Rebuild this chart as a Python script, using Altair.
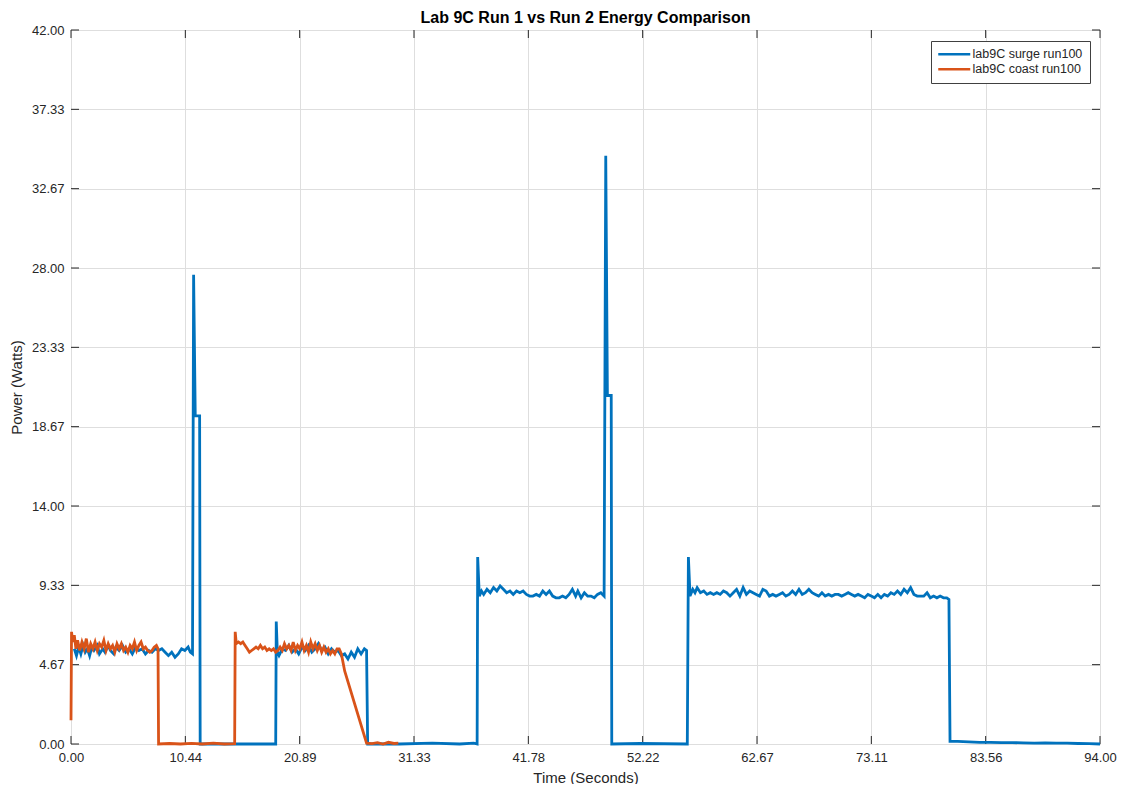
import altair as alt
import pandas as pd

# ---- data ----
surge_t = [0.3, 0.5, 0.7, 0.9, 1.1, 1.3, 1.5, 1.7, 1.9, 2.1, 2.4, 2.6, 2.9, 3.1, 3.4, 3.6, 3.9, 4.1, 4.4, 4.7,
           5.0, 5.3, 5.6, 5.9, 6.2, 6.5, 6.8, 7.1, 7.4, 7.7, 8.0, 8.3, 8.6, 8.9, 9.2, 9.5, 9.8, 10.1, 10.4, 10.7,
           10.9, 11.1, 11.2, 11.35, 11.75, 11.8, 14.0, 16.5, 18.7,
           18.75, 18.85, 19.0, 19.3, 19.6, 19.9, 20.2, 20.5, 20.8, 21.1, 21.4, 21.7, 22.0, 22.3, 22.6, 22.9, 23.2,
           23.5, 23.8, 24.1, 24.4, 24.7, 25.0, 25.3, 25.6, 25.9, 26.2, 26.5, 26.8, 27.0, 27.1,
           30.0, 33.0, 35.5, 36.8, 37.1,
           37.15, 37.3, 37.5, 37.7, 38.0, 38.3, 38.6, 38.9, 39.2, 39.5, 39.8, 40.1, 40.4, 40.7, 41.0, 41.3, 41.6,
           41.9, 42.2, 42.5, 42.8, 43.1, 43.4, 43.7, 44.0, 44.3, 44.6, 44.9, 45.2, 45.5, 45.8, 46.1, 46.3, 46.6,
           46.9, 47.2, 47.5, 47.8, 48.1, 48.4, 48.7, 48.85, 49.0, 49.35, 49.4,
           52.0, 56.3,
           56.4, 56.55, 56.8, 57.0, 57.2, 57.5, 57.8, 58.1, 58.4, 58.7, 59.0, 59.3, 59.6, 59.9, 60.2, 60.5, 60.8,
           61.1, 61.4, 61.7, 62.0, 62.3, 62.6, 62.9, 63.2, 63.5, 63.8, 64.1, 64.4, 64.7, 65.0, 65.3, 65.6, 65.9,
           66.2, 66.5, 66.8, 67.1, 67.4, 67.7, 68.0, 68.3, 68.6, 68.9, 69.2, 69.5, 69.8, 70.1, 70.4, 70.7, 71.0,
           71.3, 71.6, 71.9, 72.2, 72.5, 72.8, 73.1, 73.4, 73.7, 74.0, 74.3, 74.6, 74.9, 75.2, 75.5, 75.8, 76.1,
           76.4, 76.7, 77.0, 77.3, 77.6, 77.9, 78.2, 78.5, 78.8, 79.1, 79.4, 79.7, 80.0, 80.2, 80.3,
           81.0, 82.0, 83.0, 84.0, 85.0, 86.0, 87.0, 88.0, 89.0, 90.0, 91.0, 92.0, 93.0, 94.0]
surge_p = [5.6, 5.2, 5.7, 5.3, 5.8, 5.4, 5.6, 5.2, 5.7, 5.5, 5.8, 5.3, 5.6, 5.4, 5.8, 5.5, 5.3, 5.7, 5.5, 5.8,
           5.4, 5.6, 5.3, 5.7, 5.5, 5.6, 5.3, 5.5, 5.4, 5.6, 5.5, 5.6, 5.4, 5.2, 5.4, 5.1, 5.3, 5.6, 5.5, 5.7,
           5.4, 5.3, 27.6, 19.3, 19.3, 0.0, 0.0, 0.0, 0.0,
           7.2, 5.4, 5.2, 5.6, 5.5, 5.8, 5.4, 5.6, 5.3, 5.7, 5.5, 5.8, 5.4, 5.6, 5.9, 5.5, 5.7,
           5.3, 5.6, 5.4, 5.5, 5.2, 5.3, 5.0, 5.4, 5.1, 5.6, 5.3, 5.6, 5.5, 0.0,
           0.0, 0.05, 0.0, 0.05, 0.0,
           11.0, 8.7, 9.0, 8.8, 9.1, 8.9, 9.2, 9.0, 9.3, 9.1, 8.9, 9.0, 8.8, 9.0, 8.9, 9.0, 8.8,
           8.7, 8.7, 8.8, 8.7, 9.0, 8.8, 9.0, 8.7, 8.6, 8.6, 8.7, 8.6, 8.8, 9.1, 8.7, 9.0, 8.6,
           8.9, 8.7, 8.7, 8.6, 8.8, 8.9, 8.7, 34.6, 20.5, 20.5, 0.0,
           0.03, 0.0,
           11.0, 8.7, 9.1, 8.9, 9.2, 8.9, 9.0, 8.8, 8.9, 8.8, 8.9, 8.8, 9.0, 8.9, 8.7, 8.9, 9.1,
           8.7, 9.2, 8.8, 9.0, 8.9, 8.8, 8.7, 9.1, 9.0, 8.7, 8.8, 8.7, 8.8, 8.9, 8.7, 8.8, 9.0,
           8.8, 9.1, 8.8, 8.9, 9.1, 8.9, 8.8, 8.7, 8.9, 8.7, 8.8, 8.7, 8.8, 8.8, 8.7, 8.8, 8.9,
           8.8, 8.7, 8.8, 8.7, 8.6, 8.8, 8.7, 8.6, 8.8, 8.6, 8.8, 8.7, 8.9, 8.8, 9.0, 8.8, 9.1,
           8.9, 9.2, 8.8, 8.7, 8.7, 8.7, 8.9, 8.6, 8.7, 8.6, 8.7, 8.6, 8.6, 8.5, 0.15,
           0.15, 0.12, 0.1, 0.1, 0.08, 0.08, 0.07, 0.05, 0.06, 0.05, 0.05, 0.03, 0.02, 0.0]

coast_t = [0.0, 0.05, 0.15, 0.3, 0.45, 0.6, 0.8, 1.0, 1.2, 1.4, 1.6, 1.8, 2.0, 2.2, 2.4, 2.6, 2.8, 3.0, 3.2,
           3.4, 3.6, 3.8, 4.0, 4.2, 4.4, 4.6, 4.8, 5.0, 5.2, 5.4, 5.6, 5.8, 6.0, 6.2, 6.4, 6.6, 6.8, 7.0,
           7.2, 7.4, 7.6, 7.8, 7.95, 8.0,
           9.0, 10.0, 11.0, 12.0, 13.0, 14.0, 14.95,
           15.0, 15.1, 15.3, 15.5, 15.7, 15.9, 16.1, 16.3, 16.5, 16.7, 16.9, 17.1, 17.3, 17.5, 17.7, 17.9,
           18.1, 18.3, 18.5, 18.7, 18.9, 19.1, 19.3, 19.5, 19.7, 19.9, 20.1, 20.3, 20.5, 20.7, 20.9, 21.1,
           21.3, 21.5, 21.7, 21.9, 22.1, 22.3, 22.5, 22.7, 22.9, 23.1, 23.3, 23.5, 23.7, 23.9, 24.1, 24.3,
           24.5, 24.7, 25.0, 27.0,
           27.5, 28.0, 28.5, 29.0, 29.5, 29.9]
coast_p = [1.4, 6.6, 6.0, 6.4, 5.6, 6.1, 5.5, 6.0, 5.6, 6.2, 5.4, 5.9, 5.6, 6.0, 5.5, 5.9, 5.7, 6.1, 5.5,
           5.9, 5.6, 5.8, 5.4, 5.9, 5.6, 5.9, 5.5, 5.7, 5.4, 5.8, 5.6, 6.0, 5.5, 5.8, 6.0, 5.6, 5.7, 5.5,
           5.4, 5.5, 5.7, 5.8, 5.6, 0.0,
           0.03, 0.0, 0.04, 0.0, 0.05, 0.0, 0.02,
           6.6, 5.9, 6.0, 5.9, 6.0, 5.8, 5.6, 5.4, 5.5, 5.6, 5.7, 5.6, 5.8, 5.6, 5.7, 5.5,
           5.6, 5.5, 5.6, 5.4, 5.5, 5.7, 5.5, 5.9, 5.6, 5.8, 5.5, 6.0, 5.5, 5.8, 5.6, 6.0,
           5.5, 5.8, 5.4, 6.0, 5.6, 5.9, 5.5, 5.8, 5.4, 5.7, 5.4, 5.6, 5.3, 5.5, 5.3, 5.6,
           5.6, 5.3, 4.3, 0.05,
           0.02, 0.08, 0.0, 0.1, 0.03, 0.05]

x_ticks = [0.0, 10.444, 20.889, 31.333, 41.778, 52.222, 62.667, 73.111, 83.556, 94.0]
y_ticks = [0.0, 4.667, 9.333, 14.0, 18.667, 23.333, 28.0, 32.667, 37.333, 42.0]
series_names = ["lab9C surge run100", "lab9C coast run100"]
series_colors = ["#0072BD", "#D95319"]

# ---- layout / style ----
W, H = 1029, 714
TICK = 8
FONT = "Liberation Sans"
TXT = "#262626"

surge = pd.DataFrame({"t": surge_t, "p": surge_p, "series": series_names[0]})
surge["i"] = range(len(surge))
coast = pd.DataFrame({"t": coast_t, "p": coast_p, "series": series_names[1]})
coast["i"] = range(len(coast))
xt = pd.DataFrame({"v": x_ticks})
yt = pd.DataFrame({"v": y_ticks})

xscale = alt.Scale(domain=[0, 94], nice=False, zero=False)
yscale = alt.Scale(domain=[0, 42], nice=False, zero=False)

xaxis = alt.Axis(values=x_ticks, format=".2f", title="Time (Seconds)", labelFlush=False,
                 labelOverlap=False, ticks=False, domain=False, grid=True, gridColor="#dedede",
                 labelFont=FONT, labelFontSize=13, labelColor=TXT, labelPadding=7,
                 titleFont=FONT, titleFontSize=15, titleFontWeight="normal", titleColor=TXT,
                 titlePadding=6)
yaxis = alt.Axis(values=y_ticks, format=".2f", title="Power (Watts)", labelFlush=False,
                 labelOverlap=False, ticks=False, domain=False, grid=True, gridColor="#dedede",
                 labelFont=FONT, labelFontSize=13, labelColor=TXT, labelPadding=7,
                 titleFont=FONT, titleFontSize=15, titleFontWeight="normal", titleColor=TXT,
                 titlePadding=7)

color = alt.Color(
    "series:N",
    scale=alt.Scale(domain=series_names, range=series_colors),
    legend=alt.Legend(
        title=None, orient="none", legendX=860, legendY=11, direction="vertical",
        symbolType="M-3,0H13", symbolSize=16, symbolStrokeWidth=2.5,
        labelOffset=22, labelFont=FONT, labelFontSize=12.5, labelColor=TXT,
        fillColor="white", strokeColor="#404040", padding=7, rowPadding=2,
        cornerRadius=0,
    ),
)

surge_line = alt.Chart(surge).mark_line(strokeWidth=2.8).encode(
    x=alt.X("t:Q", scale=xscale, axis=xaxis),
    y=alt.Y("p:Q", scale=yscale, axis=yaxis),
    color=color,
    order="i:Q",
)
coast_line = alt.Chart(coast).mark_line(strokeWidth=2.8).encode(
    x=alt.X("t:Q", scale=xscale, axis=xaxis),
    y=alt.Y("p:Q", scale=yscale, axis=yaxis),
    color=color,
    order="i:Q",
)

tick_style = dict(color=TXT, strokeWidth=1)
xt_bottom = alt.Chart(xt).mark_rule(**tick_style).encode(
    x=alt.X("v:Q", scale=xscale, axis=xaxis), y=alt.value(H), y2=alt.value(H - TICK))
xt_top = alt.Chart(xt).mark_rule(**tick_style).encode(
    x=alt.X("v:Q", scale=xscale, axis=xaxis), y=alt.value(0), y2=alt.value(TICK))
yt_left = alt.Chart(yt).mark_rule(**tick_style).encode(
    y=alt.Y("v:Q", scale=yscale, axis=yaxis), x=alt.value(0), x2=alt.value(TICK))
yt_right = alt.Chart(yt).mark_rule(**tick_style).encode(
    y=alt.Y("v:Q", scale=yscale, axis=yaxis), x=alt.value(W), x2=alt.value(W - TICK))

chart = alt.layer(xt_bottom, xt_top, yt_left, yt_right, surge_line, coast_line).properties(
    width=W, height=H,
    title=alt.TitleParams("Lab 9C Run 1 vs Run 2 Energy Comparison", font=FONT, fontSize=16,
                          fontWeight="bold", color="#000000", anchor="middle", offset=1, dy=3),
    autosize=alt.AutoSizeParams(type="none"),
    padding={"left": 63, "top": 22, "right": 17, "bottom": 40},
).configure_view(
    stroke="#333333", strokeWidth=1
).configure(background="white")

chart.save("out.html", embed_options={"renderer": "svg", "actions": False})
